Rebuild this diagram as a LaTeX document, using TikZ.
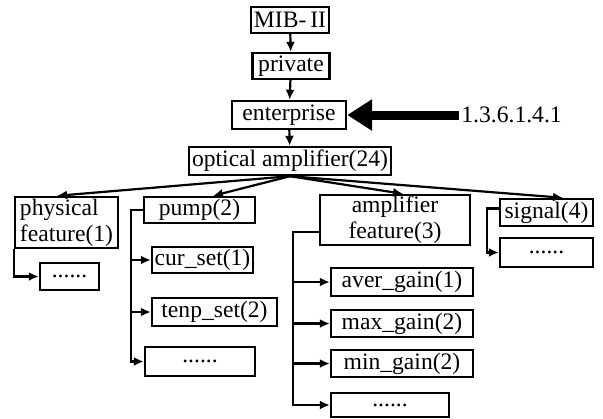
\documentclass[tikz,border=0pt]{standalone}
\usepackage{fontspec}
\setmainfont{Liberation Serif}
\usetikzlibrary{arrows.meta,calc}

\begin{document}
\begin{tikzpicture}[x=0.5pt, y=-0.5pt,
    font=\fontsize{11.8}{13}\selectfont,
    box/.style={draw, line width=1.2pt, inner sep=0pt},
    arr/.style={-{Latex[length=5pt,width=4.5pt]}, line width=1.1pt}]
    \useasboundingbox (0,0) rectangle (603,418);

    % Draw the boxes
    \node[box, minimum width=39pt, minimum height=13pt] (mib) at (290,20) {MIB-\,II};
    \node[box, minimum width=38.5pt, minimum height=13pt] (priv) at (291,66) {private};
    \node[box, minimum width=57pt, minimum height=14pt] (ent) at (289,115) {enterprise};
    \node[box, minimum width=101pt, minimum height=14pt] (opt) at (290,161) {optical amplifier(24)};

    \node[box, minimum width=51.5pt, minimum height=25.5pt, align=left] (phys) at (66.5,222.5) {physical\\feature(1)};
    \node[box, minimum width=55.5pt, minimum height=13pt] (pump) at (199.5,210) {pump(2)};
    \node[box, minimum width=75pt, minimum height=25pt, align=center] (amp) at (395,220) {amplifier\\feature(3)};
    \node[box, minimum width=46.5pt, minimum height=13.5pt] (sig) at (546.5,212.5) {signal(4)};

    \node[box, minimum width=29.5pt, minimum height=13.5pt] (pdots) at (69.5,276.5) {......};
    \node[box, minimum width=50.5pt, minimum height=13pt] (cur) at (202.5,260) {cur\_set(1)};
    \node[box, minimum width=62.5pt, minimum height=14pt] (tenp) at (214.5,312) {tenp\_set(2)};
    \node[box, minimum width=55pt, minimum height=14.5pt] (mdots) at (200,361.5) {......};
    \node[box, minimum width=71pt, minimum height=14pt] (aver) at (402,282) {aver\_gain(1)};
    \node[box, minimum width=71pt, minimum height=13.5pt] (maxg) at (402,323.5) {max\_gain(2)};
    \node[box, minimum width=71pt, minimum height=13.5pt] (ming) at (402,363.5) {min\_gain(2)};
    \node[box, minimum width=59pt, minimum height=12pt] (adots) at (390,405) {......};
    \node[box, minimum width=46.5pt, minimum height=14.5pt] (sdots) at (546.5,252.5) {......};

    % Object identifier
    \node[anchor=west, inner sep=1pt] (oid) at (459,115) {1.3.6.1.4.1};
    \draw[-{Triangle[length=12.5pt,width=15pt]}, line width=4.5pt] (oid.west) -- (ent.east);

    % Arrows down the tree
    \draw[arr] (mib) -- (priv);
    \draw[arr] (priv) -- (ent);
    \draw[arr] (ent) -- (opt);
    \draw[arr] (opt.south) -- ($(phys.north)+(-9.5,0)$);
    \draw[arr] (opt.south) -- ($(pump.north)+(13.5,0)$);
    \draw[arr] (opt.south) -- ($(amp.north)+(8,0)$);
    \draw[arr] (opt.south) -- ($(sig.north)+(16.5,0)$);

    % Branches to the leaves
    \draw[arr] (phys.south west) |- (pdots.west);
    \foreach \leaf in {cur,tenp,mdots}
        \draw[arr] (pump.west) -- ++(-12,0) |- (\leaf.west);
    \foreach \leaf in {aver,maxg,ming,adots}
        \draw[arr] ($(amp.west)+(0,12)$) -- ++(-26,0) |- (\leaf.west);
    \draw[arr] ($(sig.west)+(0,-4)$) -- ++(-12,0) |- (sdots.west);
\end{tikzpicture}
\end{document}
